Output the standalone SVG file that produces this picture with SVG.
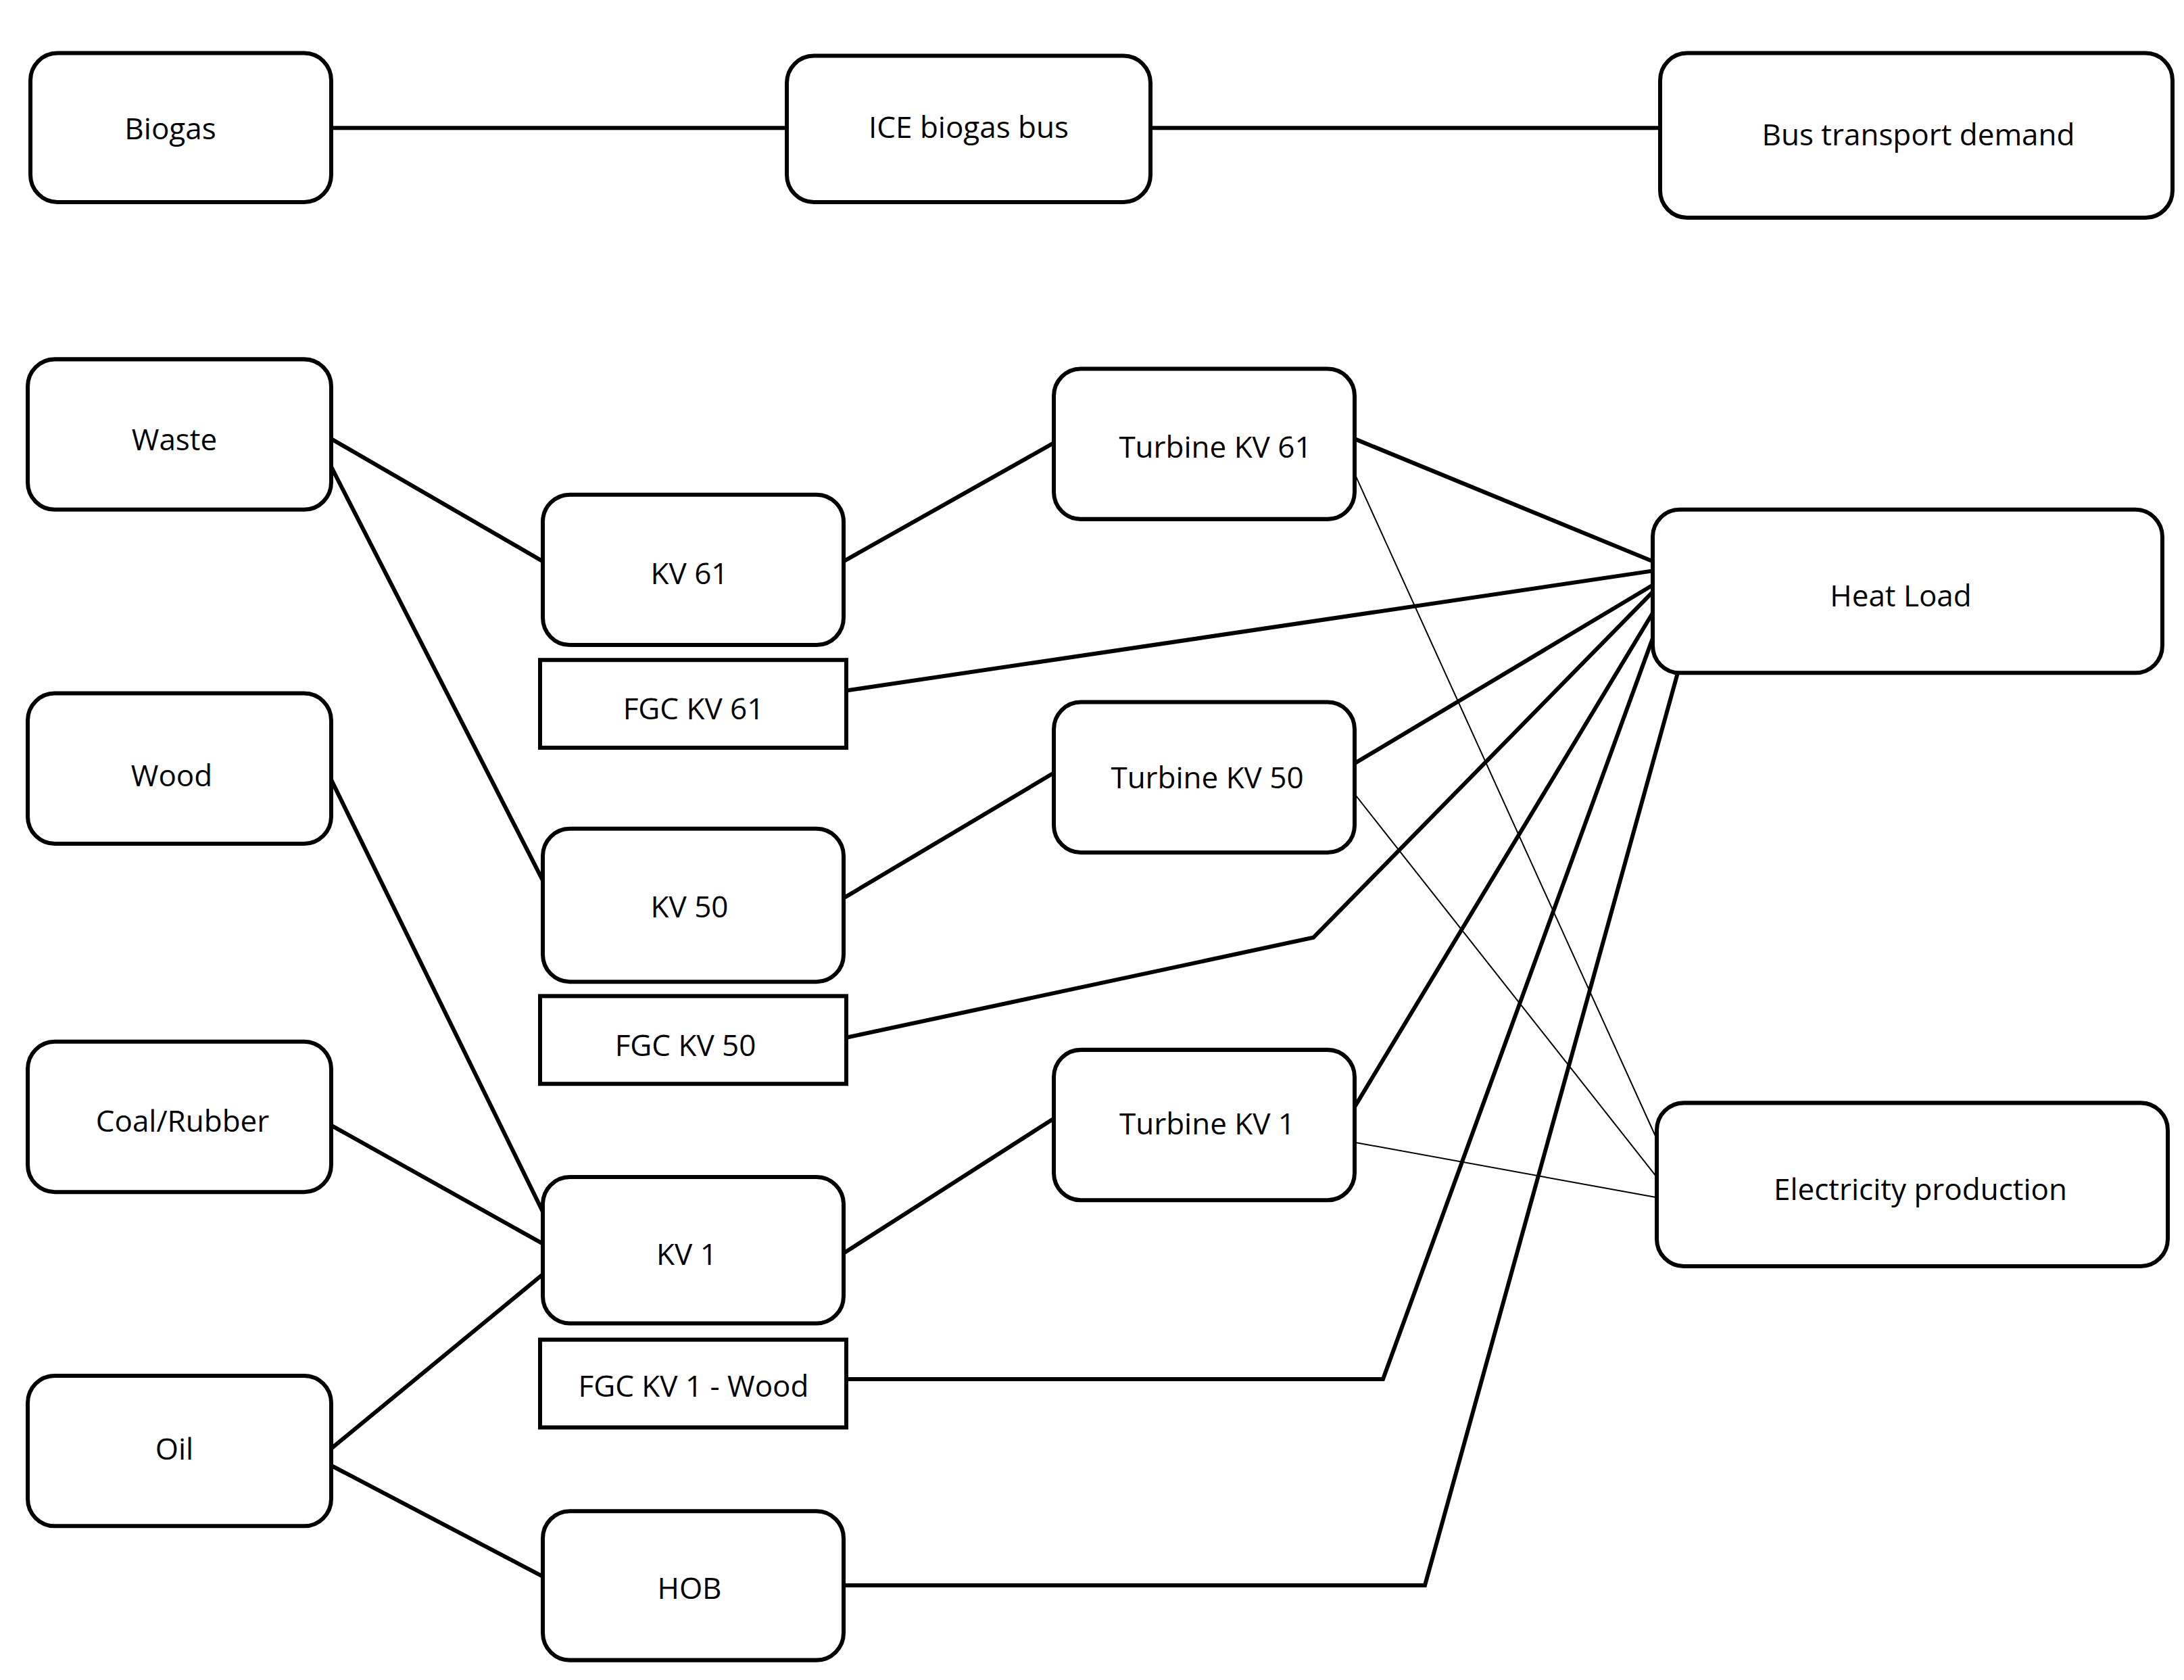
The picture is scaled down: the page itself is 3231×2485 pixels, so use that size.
<svg xmlns="http://www.w3.org/2000/svg" width="3231" height="2485" viewBox="0 0 3231 2485">
<style>
.n{fill:#fff;stroke:#000;stroke-width:6}
.t{font-family:"Open Sans","DejaVu Sans",sans-serif;font-size:44px;text-anchor:middle;dominant-baseline:central;fill:#000}
.c{fill:none;stroke:#000;stroke-width:6}
.th{fill:none;stroke:#000;stroke-width:2}
</style>
<rect width="3231" height="2485" fill="#fff"/>
<g transform="scale(1,1.0064)">
<g id="connectors">
<path class="c" d="M490,188H1164M1702,188H2456"/>
<path class="c" d="M490,645L803,825M490,686L803,1294M1248,825L1559,651M2004,645L2445,825"/>
<path class="th" d="M2004,696L2451,1674M2004,1167L2451,1730M2004,1679L2451,1760"/>
<path class="c" d="M1252,1015L2445,839M2004,1122L2445,860M1248,1320L1559,1136M1252,1525L1943,1378L2445,870"/>
<path class="c" d="M490,1146L803,1781M490,1654L803,1828M2004,1627L2445,901M1248,1842L1559,1644"/>
<path class="c" d="M1252,2027H2046L2445,938M490,2129L803,1873M490,2154L803,2317M1248,2330H2108L2482,989"/>
</g>
<g id="biogas"><rect class="n" x="45" y="78" width="445" height="219" rx="40"/><text class="t" x="252" y="188">Biogas</text></g>
<g id="ice"><rect class="n" x="1164" y="82" width="538" height="215" rx="40"/><text class="t" x="1433" y="186" font-size="50">ICE biogas bus</text></g>
<g id="bus"><rect class="n" x="2456" y="78" width="758" height="242" rx="40"/><text class="t" x="2838" y="197">Bus transport demand</text></g>
<g id="waste"><rect class="n" x="41" y="528" width="449" height="221" rx="40"/><text class="t" x="258" y="645">Waste</text></g>
<g id="kv61"><rect class="n" x="803" y="727" width="445" height="221" rx="40"/><text class="t" x="1020" y="842">KV 61</text></g>
<g id="fgc61"><rect class="n" x="799" y="970" width="453" height="129"/><text class="t" x="1026" y="1040">FGC KV 61</text></g>
<g id="t61"><rect class="n" x="1559" y="542" width="445" height="221" rx="40"/><text class="t" x="1798" y="656">Turbine KV 61</text></g>
<g id="heat"><rect class="n" x="2445" y="749" width="754" height="240" rx="40"/><text class="t" x="2812" y="874">Heat Load</text></g>
<g id="wood"><rect class="n" x="41" y="1019" width="449" height="221" rx="40"/><text class="t" x="254" y="1139">Wood</text></g>
<g id="t50"><rect class="n" x="1559" y="1032" width="445" height="221" rx="40"/><text class="t" x="1786" y="1142">Turbine KV 50</text></g>
<g id="kv50"><rect class="n" x="803" y="1218" width="445" height="225" rx="40"/><text class="t" x="1020" y="1331">KV 50</text></g>
<g id="fgc50"><rect class="n" x="799" y="1464" width="453" height="129"/><text class="t" x="1014" y="1535">FGC KV 50</text></g>
<g id="coal"><rect class="n" x="41" y="1531" width="449" height="221" rx="40"/><text class="t" x="270" y="1646">Coal/Rubber</text></g>
<g id="t1"><rect class="n" x="1559" y="1543" width="445" height="221" rx="40"/><text class="t" x="1786" y="1650">Turbine KV 1</text></g>
<g id="elec"><rect class="n" x="2451" y="1621" width="756" height="240" rx="40"/><text class="t" x="2841" y="1747">Electricity production</text></g>
<g id="kv1"><rect class="n" x="803" y="1730" width="445" height="215" rx="40"/><text class="t" x="1016" y="1842">KV 1</text></g>
<g id="fgc1"><rect class="n" x="799" y="1969" width="453" height="129"/><text class="t" x="1026" y="2036">FGC KV 1 - Wood</text></g>
<g id="oil"><rect class="n" x="41" y="2022" width="449" height="221" rx="40"/><text class="t" x="258" y="2128">Oil</text></g>
<g id="hob"><rect class="n" x="803" y="2221" width="445" height="219" rx="40"/><text class="t" x="1020" y="2333">HOB</text></g>
</g>
</svg>
